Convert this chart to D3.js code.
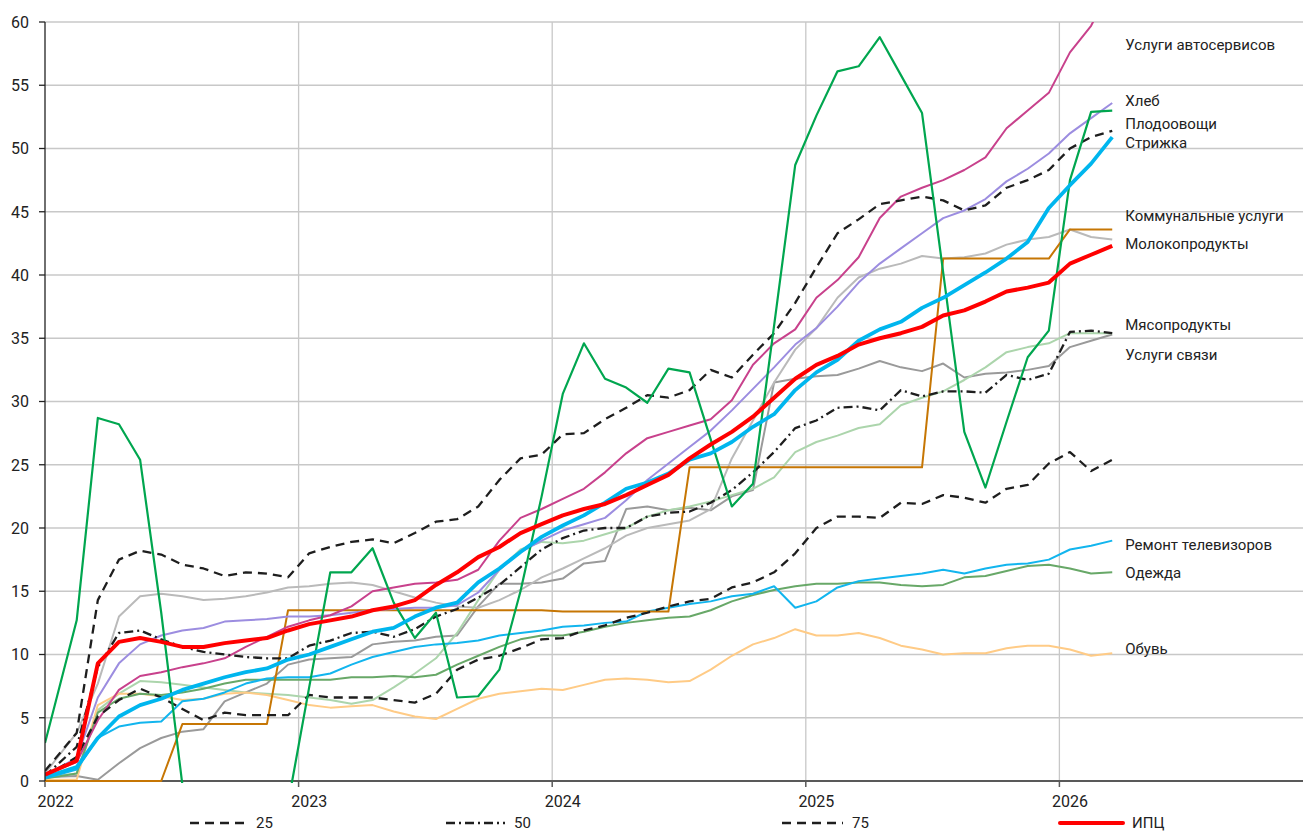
<!DOCTYPE html>
<html>
<head>
<meta charset="utf-8">
<script src="https://cdn.jsdelivr.net/npm/d3@7"></script>
<style>
  body { margin: 0; background: #fff; }
  svg { display: block; }
  text { font-family: Roboto, "DejaVu Sans", sans-serif; fill: #222; }
</style>
</head>
<body>
<svg id="chart" width="1303" height="832"></svg>
<script>
// monthly cumulative price growth since Jan 2022, %, Jan 2022 .. Mar 2026
var years = ["2022", "2023", "2024", "2025", "2026"];
var yTicks = [0, 5, 10, 15, 20, 25, 30, 35, 40, 45, 50, 55, 60];

var autoService = [0.5, 1.5, 4.8, 7.2, 8.3, 8.6, 9.0, 9.3, 9.7, 10.6, 11.4, 12.2, 12.7, 13.1, 13.8, 15.0, 15.3, 15.6, 15.7, 15.9, 16.7, 19.0, 20.8, 21.5, 22.3, 23.1, 24.4, 25.9, 27.1, 27.6, 28.1, 28.6, 30.1, 32.9, 34.6, 35.7, 38.2, 39.6, 41.4, 44.5, 46.2, 46.9, 47.5, 48.3, 49.3, 51.6, 53.0, 54.4, 57.6, 59.7, 63.0];
var bread = [0.5, 1.8, 6.6, 9.3, 10.8, 11.5, 11.9, 12.1, 12.6, 12.7, 12.8, 13.0, 13.0, 13.1, 13.3, 13.5, 13.6, 13.7, 13.7, 13.9, 14.9, 16.7, 18.1, 19.0, 19.8, 20.3, 20.8, 22.2, 23.8, 25.1, 26.4, 27.7, 29.3, 31.0, 32.7, 34.5, 35.8, 37.5, 39.4, 40.9, 42.1, 43.3, 44.5, 45.1, 46.0, 47.4, 48.4, 49.6, 51.2, 52.4, 53.6];
var fruitVeg = [3.0, 12.7, 28.7, 28.2, 25.4, 13.3, -0.3, -3, -4, -4, -3, -1.8, 7.4, 16.5, 16.5, 18.4, 14.1, 11.3, 13.3, 6.6, 6.7, 8.8, 15.0, 22.5, 30.6, 34.6, 31.8, 31.1, 29.9, 32.6, 32.3, 27.0, 21.7, 23.5, 36.0, 48.7, 52.6, 56.1, 56.5, 58.8, 55.8, 52.8, 40.2, 27.6, 23.2, 28.4, 33.5, 35.6, 47.5, 52.9, 53.0];
var haircut = [0.3, 1.1, 3.4, 5.1, 6.0, 6.5, 7.2, 7.7, 8.2, 8.6, 8.9, 9.6, 10.0, 10.6, 11.2, 11.8, 12.1, 13.0, 13.7, 14.1, 15.7, 16.8, 18.1, 19.3, 20.2, 21.0, 22.0, 23.1, 23.6, 24.3, 25.4, 25.9, 26.8, 28.0, 29.0, 30.9, 32.3, 33.3, 34.8, 35.7, 36.3, 37.4, 38.2, 39.2, 40.2, 41.3, 42.6, 45.3, 47.1, 48.8, 50.9];
var utilities = [0, 0, 0, 0, 0, 0, 4.5, 4.5, 4.5, 4.5, 4.5, 13.5, 13.5, 13.5, 13.5, 13.5, 13.5, 13.5, 13.5, 13.5, 13.5, 13.5, 13.5, 13.5, 13.4, 13.4, 13.4, 13.4, 13.4, 13.4, 24.8, 24.8, 24.8, 24.8, 24.8, 24.8, 24.8, 24.8, 24.8, 24.8, 24.8, 24.8, 41.3, 41.3, 41.3, 41.3, 41.3, 41.3, 43.6, 43.6, 43.6];
var dairy = [0.6, 3.8, 7.7, 13.0, 14.6, 14.8, 14.6, 14.3, 14.4, 14.6, 14.9, 15.3, 15.4, 15.6, 15.7, 15.5, 15.0, 14.5, 14.1, 13.8, 13.7, 14.3, 15.1, 16.1, 16.8, 17.6, 18.4, 19.4, 20.0, 20.3, 20.6, 21.5, 25.5, 28.5, 31.5, 34.1, 35.8, 38.2, 39.8, 40.5, 40.9, 41.5, 41.3, 41.4, 41.7, 42.4, 42.8, 43.0, 43.6, 43.0, 42.8];
var meat = [0.3, 0.6, 5.6, 6.9, 7.9, 7.8, 7.6, 7.4, 7.2, 7.0, 6.9, 6.8, 6.6, 6.4, 6.1, 6.4, 7.4, 8.5, 9.7, 11.7, 14.3, 16.7, 18.3, 18.9, 18.8, 19.0, 19.5, 20.0, 20.9, 21.4, 21.7, 22.1, 22.6, 23.1, 24.0, 26.0, 26.8, 27.3, 27.9, 28.2, 29.7, 30.3, 30.8, 31.7, 32.7, 33.9, 34.3, 34.6, 35.4, 35.4, 35.4];
var telecom = [0.3, 0.4, 0.1, 1.4, 2.6, 3.4, 3.9, 4.1, 6.3, 7.0, 7.7, 9.2, 9.6, 9.7, 9.8, 10.8, 11.0, 11.1, 11.4, 11.5, 13.8, 15.6, 15.6, 15.7, 16.0, 17.2, 17.4, 21.5, 21.7, 21.4, 21.6, 21.4, 22.5, 23.0, 31.5, 31.8, 32.0, 32.1, 32.6, 33.2, 32.7, 32.4, 33.0, 31.9, 32.2, 32.3, 32.5, 32.8, 34.3, 34.8, 35.3];
var tvRepair = [0.2, 0.9, 3.4, 4.3, 4.6, 4.7, 6.3, 6.5, 7.0, 7.7, 8.1, 8.2, 8.2, 8.5, 9.2, 9.8, 10.2, 10.6, 10.8, 10.9, 11.1, 11.5, 11.7, 11.9, 12.2, 12.3, 12.5, 12.6, 13.4, 13.7, 14.0, 14.2, 14.6, 14.8, 15.4, 13.7, 14.2, 15.3, 15.8, 16.0, 16.2, 16.4, 16.7, 16.4, 16.8, 17.1, 17.2, 17.5, 18.3, 18.6, 19.0];
var clothing = [0.2, 0.6, 5.4, 6.5, 6.9, 6.8, 7.0, 7.3, 7.7, 8.0, 8.0, 8.0, 8.0, 8.0, 8.2, 8.2, 8.3, 8.2, 8.4, 9.2, 9.9, 10.6, 11.2, 11.5, 11.5, 11.8, 12.2, 12.5, 12.7, 12.9, 13.0, 13.5, 14.2, 14.7, 15.1, 15.4, 15.6, 15.6, 15.7, 15.7, 15.5, 15.4, 15.5, 16.1, 16.2, 16.6, 17.0, 17.1, 16.8, 16.4, 16.5];
var shoes = [0.1, 0.1, 6.0, 6.9, 6.9, 6.7, 6.4, 6.5, 6.9, 7.0, 6.8, 6.4, 6.0, 5.8, 5.9, 6.0, 5.5, 5.1, 4.9, 5.7, 6.5, 6.9, 7.1, 7.3, 7.2, 7.6, 8.0, 8.1, 8.0, 7.8, 7.9, 8.8, 9.9, 10.8, 11.3, 12.0, 11.5, 11.5, 11.7, 11.3, 10.7, 10.4, 10.0, 10.1, 10.1, 10.5, 10.7, 10.7, 10.4, 9.9, 10.1];
var p25 = [0.3, 1.9, 5.1, 6.4, 7.3, 6.6, 5.7, 4.8, 5.4, 5.2, 5.2, 5.2, 6.8, 6.6, 6.6, 6.6, 6.4, 6.2, 6.9, 8.8, 9.6, 9.9, 10.5, 11.2, 11.3, 11.9, 12.3, 12.9, 13.3, 13.8, 14.2, 14.4, 15.3, 15.7, 16.5, 18.0, 20.0, 20.9, 20.9, 20.8, 22.0, 21.9, 22.6, 22.4, 22.0, 23.1, 23.4, 25.1, 26.0, 24.5, 25.4];
var p50 = [0.4, 2.7, 9.0, 11.7, 11.9, 11.2, 10.6, 10.2, 10.0, 9.8, 9.7, 9.7, 10.7, 11.1, 11.7, 11.8, 11.4, 12.0, 13.0, 13.6, 14.5, 15.5, 16.9, 18.3, 19.2, 19.8, 20.0, 20.0, 20.9, 21.2, 21.3, 22.0, 23.0, 24.4, 26.0, 27.9, 28.5, 29.5, 29.6, 29.3, 30.9, 30.4, 30.8, 30.8, 30.7, 32.1, 31.7, 32.2, 35.5, 35.6, 35.4];
var p75 = [0.8, 3.8, 14.3, 17.5, 18.2, 17.9, 17.1, 16.8, 16.2, 16.5, 16.4, 16.1, 18.0, 18.5, 18.9, 19.1, 18.8, 19.6, 20.5, 20.7, 21.7, 23.8, 25.5, 25.8, 27.4, 27.5, 28.6, 29.5, 30.5, 30.3, 30.9, 32.5, 31.9, 33.7, 35.4, 37.8, 40.6, 43.3, 44.4, 45.6, 45.9, 46.2, 45.9, 45.1, 45.5, 46.9, 47.5, 48.3, 50.0, 50.9, 51.4];
var cpi = [0.5, 1.6, 9.3, 11.0, 11.3, 11.0, 10.6, 10.6, 10.9, 11.1, 11.3, 11.9, 12.4, 12.7, 13.0, 13.5, 13.8, 14.3, 15.5, 16.5, 17.7, 18.5, 19.6, 20.3, 21.0, 21.5, 21.9, 22.6, 23.4, 24.2, 25.5, 26.6, 27.6, 28.8, 30.3, 31.8, 32.9, 33.6, 34.5, 35.0, 35.4, 35.9, 36.8, 37.2, 37.9, 38.7, 39.0, 39.4, 40.9, 41.6, 42.3];

// end-of-line labels: name and the level (in %) where the label sits
var labelNames = ["Услуги автосервисов", "Хлеб", "Плодоовощи", "Стрижка", "Коммунальные услуги", "Молокопродукты", "Мясопродукты", "Услуги связи", "Ремонт телевизоров", "Одежда", "Обувь"];
var labelLevels = [58.2, 53.75, 52.0, 50.5, 44.7, 42.45, 36.05, 33.7, 18.7, 16.45, 10.5];

var series = [
  {values: telecom,     color: "#9a9a9a", width: 2},
  {values: dairy,       color: "#bababa", width: 2},
  {values: meat,        color: "#acd5ac", width: 2},
  {values: shoes,       color: "#ffcb86", width: 2},
  {values: clothing,    color: "#68a868", width: 2},
  {values: tvRepair,    color: "#12b5ee", width: 2},
  {values: utilities,   color: "#c67604", width: 2},
  {values: bread,       color: "#9c8de0", width: 2},
  {values: autoService, color: "#c8418c", width: 2},
  {values: p25,         color: "#1e1e1e", width: 2.3, dash: "9,6"},
  {values: p50,         color: "#1e1e1e", width: 2.3, dash: "9,4,2,4"},
  {values: p75,         color: "#1e1e1e", width: 2.3, dash: "9,6"},
  {values: fruitVeg,    color: "#00a64f", width: 2.2},
  {values: haircut,     color: "#00b6ee", width: 3.8},
  {values: cpi,         color: "#ff0000", width: 4}
];

var legendItems = [
  {name: "25",  color: "#1e1e1e", width: 2.5, dash: "9,6",     x0: 190,  x1: 247},
  {name: "50",  color: "#1e1e1e", width: 2.5, dash: "9,4,2,4", x0: 446,  x1: 505},
  {name: "75",  color: "#1e1e1e", width: 2.5, dash: "9,6",     x0: 782,  x1: 843},
  {name: "ИПЦ", color: "#ff0000", width: 4,   dash: null,      x0: 1060, x1: 1123}
];

var svg = d3.select("#chart");
var chartW = 1303, plotLeft = 45, plotTop = 22, plotBottom = 781;

// months since Jan 2022; first point sits on the axis, the rest mid-month
var x = d3.scaleLinear().domain([0, 60]).range([plotLeft, 1313]);
var y = d3.scaleLinear().domain([0, 60]).range([plotBottom, plotTop]);
function tPos(i) { return i === 0 ? 0 : i + 0.5; }

// a little slack below zero so flat-at-zero lines stay visible on the axis
svg.append("defs").append("clipPath").attr("id", "plot")
  .append("rect").attr("x", plotLeft).attr("y", plotTop).attr("width", chartW - plotLeft).attr("height", plotBottom - plotTop + 2);

// grid
var grid = svg.append("g");
grid.selectAll("line.h").data(yTicks.filter(function(d) { return d > 0; })).enter().append("line")
  .attr("x1", plotLeft).attr("x2", chartW).attr("y1", function(d) { return y(d); }).attr("y2", function(d) { return y(d); })
  .attr("stroke", "#c8c8c8").attr("stroke-width", 1.3);
grid.selectAll("line.v").data(years.slice(1)).enter().append("line")
  .attr("x1", function(d, i) { return x((i + 1) * 12); }).attr("x2", function(d, i) { return x((i + 1) * 12); })
  .attr("y1", plotTop).attr("y2", plotBottom)
  .attr("stroke", "#c8c8c8").attr("stroke-width", 1.3);

var xAxis = svg.append("g");
xAxis.append("line").attr("x1", plotLeft).attr("x2", chartW).attr("y1", plotBottom).attr("y2", plotBottom).attr("stroke", "#595959").attr("stroke-width", 2);
xAxis.selectAll("line.t").data(years).enter().append("line")
  .attr("x1", function(d, i) { return x(i * 12); }).attr("x2", function(d, i) { return x(i * 12); })
  .attr("y1", plotBottom).attr("y2", plotBottom + 6).attr("stroke", "#595959").attr("stroke-width", 1.5);
xAxis.selectAll("text").data(years).enter().append("text")
  .attr("x", function(d, i) { return x(i * 12 + 0.5); }).attr("y", 807)
  .attr("text-anchor", "middle").attr("font-size", 16).text(function(d) { return d; });

// lines
var line = d3.line().x(function(d, i) { return x(tPos(i)); }).y(function(d) { return y(d); });
svg.append("g").attr("clip-path", "url(#plot)").selectAll("path").data(series).enter().append("path")
  .attr("d", function(s) { return line(s.values); })
  .attr("fill", "none").attr("stroke", function(s) { return s.color; })
  .attr("stroke-width", function(s) { return s.width; })
  .attr("stroke-dasharray", function(s) { return s.dash || null; })
  .attr("stroke-linejoin", "round");

// y axis
var yAxis = svg.append("g");
yAxis.append("line").attr("x1", plotLeft).attr("x2", plotLeft).attr("y1", plotTop).attr("y2", plotBottom).attr("stroke", "#222").attr("stroke-width", 1.3);
yAxis.selectAll("line.t").data(yTicks).enter().append("line")
  .attr("x1", plotLeft - 6).attr("x2", plotLeft).attr("y1", function(d) { return y(d); }).attr("y2", function(d) { return y(d); })
  .attr("stroke", "#222").attr("stroke-width", 1.3);
yAxis.selectAll("text").data(yTicks).enter().append("text")
  .attr("x", 29).attr("y", function(d) { return y(d); }).attr("dy", "0.36em")
  .attr("text-anchor", "end").attr("font-size", 16).text(function(d) { return d; });

// end labels
var lastT = tPos(cpi.length - 1);
svg.append("g").selectAll("text").data(labelNames).enter().append("text")
  .attr("x", x(lastT) + 13).attr("y", function(d, i) { return y(labelLevels[i]); }).attr("dy", "0.36em")
  .attr("font-size", 15).text(function(d) { return d; });

// legend
var legend = svg.append("g").attr("transform", "translate(0,823)");
legend.selectAll("line").data(legendItems).enter().append("line")
  .attr("x1", function(d) { return d.x0; }).attr("x2", function(d) { return d.x1; })
  .attr("stroke", function(d) { return d.color; }).attr("stroke-width", function(d) { return d.width; })
  .attr("stroke-dasharray", function(d) { return d.dash; }).attr("stroke-linecap", function(d) { return d.dash ? "butt" : "round"; });
legend.selectAll("text").data(legendItems).enter().append("text")
  .attr("x", function(d) { return d.x1 + 9; }).attr("dy", "0.32em")
  .attr("font-size", 15).text(function(d) { return d.name; });
</script>
</body>
</html>
